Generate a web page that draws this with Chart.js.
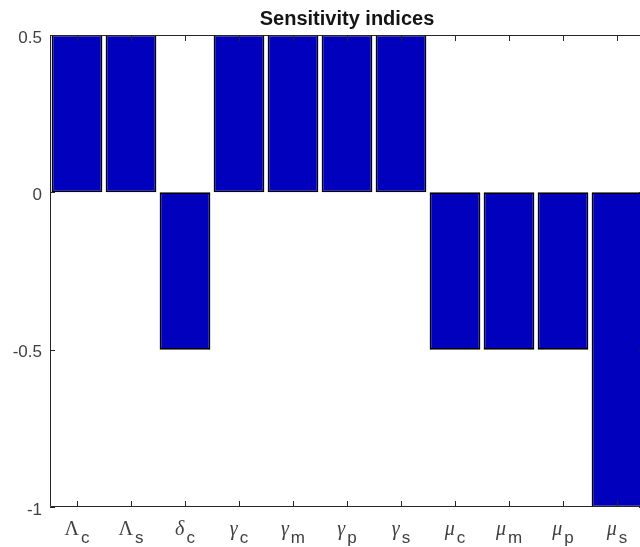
<!DOCTYPE html>
<html>
<head>
<meta charset="utf-8">
<script src="https://cdn.jsdelivr.net/npm/chart.js@4"></script>
<style>
  html, body { margin: 0; padding: 0; background: #ffffff; overflow: hidden; }
  #wrap { width: 660px; height: 547px; }
</style>
</head>
<body>
<div id="wrap"><canvas id="c" width="660" height="547"></canvas></div>
<script>
// Parameter symbols (Greek letter + subscript) and their sensitivity indices
const greekSymbols = ['Λ', 'Λ', 'δ', 'γ', 'γ', 'γ', 'γ', 'μ', 'μ', 'μ', 'μ'];
const subscripts   = ['c', 's', 'c', 'c', 'm', 'p', 's', 'c', 'm', 'p', 's'];
const categories   = greekSymbols.map((g, i) => g + subscripts[i]);
const sensitivity  = [0.5, 0.5, -0.5, 0.5, 0.5, 0.5, 0.5, -0.5, -0.5, -0.5, -1];
const yTickValues  = [0.5, 0, -0.5, -1];
const yTickLabels  = ['0.5', '0', '-0.5', '-1'];
const titleText    = 'Sensitivity indices';

const AXIS_COLOR = '#262626';
const LABEL_COLOR = '#404040';

// Frame, inward tick marks, title, y labels and subscripted category labels
const framePlugin = {
  id: 'frame',
  afterDatasetsDraw(chart) {
    const { ctx, chartArea: a, scales: { x, y } } = chart;
    ctx.save();
    ctx.strokeStyle = AXIS_COLOR;
    ctx.lineWidth = 1;
    ctx.beginPath();
    ctx.rect(a.left + 0.5, a.top + 0.5, a.right - a.left - 1, a.bottom - a.top - 1);
    ctx.stroke();

    ctx.beginPath();
    categories.forEach((c, i) => {
      const px = Math.round(x.getPixelForValue(i)) + 0.5;
      ctx.moveTo(px, a.bottom); ctx.lineTo(px, a.bottom - 6);
      ctx.moveTo(px, a.top); ctx.lineTo(px, a.top + 6);
    });
    yTickValues.forEach(v => {
      const py = Math.round(y.getPixelForValue(v)) + 0.5;
      ctx.moveTo(a.left, py); ctx.lineTo(a.left + 5, py);
      ctx.moveTo(a.right, py); ctx.lineTo(a.right - 5, py);
    });
    ctx.stroke();

    // title centred over the plot area
    ctx.fillStyle = '#141414';
    ctx.font = 'bold 20px "Liberation Sans", Arial, sans-serif';
    ctx.textAlign = 'center';
    ctx.textBaseline = 'alphabetic';
    ctx.fillText(titleText, (a.left + a.right) / 2, 25);

    // y tick labels
    ctx.fillStyle = LABEL_COLOR;
    ctx.textAlign = 'right';
    ctx.textBaseline = 'middle';
    ctx.font = '17px "Liberation Sans", Arial, sans-serif';
    yTickValues.forEach((v, i) => {
      ctx.fillText(yTickLabels[i], a.left - 8, y.getPixelForValue(v) + 3);
    });

    // category labels: Greek symbol with a sans-serif subscript
    ctx.textAlign = 'left';
    ctx.textBaseline = 'alphabetic';
    const gFontUpper = '20px "Liberation Serif", "Times New Roman", serif';
    const gFontLower = 'italic 20px "Liberation Serif", "Times New Roman", serif';
    const sFont = '17px "Liberation Sans", Arial, sans-serif';
    categories.forEach((c, i) => {
      const g = greekSymbols[i], s = subscripts[i];
      const gFont = g === g.toUpperCase() ? gFontUpper : gFontLower;
      ctx.font = gFont;
      const gw = ctx.measureText(g).width;
      ctx.font = sFont;
      const sw = ctx.measureText(s).width;
      const gap = 2;
      const cx = x.getPixelForValue(i);
      const x0 = cx - (gw + gap + sw) / 2;
      ctx.font = gFont;
      ctx.fillText(g, x0, 535);
      ctx.font = sFont;
      ctx.fillText(s, x0 + gw + gap, 543);
    });
    ctx.restore();
  }
};

new Chart(document.getElementById('c'), {
  type: 'bar',
  data: {
    labels: categories,
    datasets: [{
      data: sensitivity,
      backgroundColor: '#0000bd',
      borderColor: '#000000',
      borderWidth: 1.6,
      borderSkipped: false,
      categoryPercentage: 1.0,
      barPercentage: 0.94
    }]
  },
  options: {
    responsive: false,
    animation: false,
    devicePixelRatio: 1,
    layout: { padding: { left: 0, right: 16, top: 35, bottom: 0 } },
    plugins: {
      legend: { display: false },
      title: { display: false },
      tooltip: { enabled: false }
    },
    scales: {
      x: {
        type: 'category',
        offset: true,
        grid: { display: false, drawTicks: false },
        border: { display: false },
        ticks: { display: false },
        afterFit(s) { s.height = 40; }
      },
      y: {
        min: -1,
        max: 0.5,
        afterBuildTicks(s) { s.ticks = yTickValues.map(v => ({ value: v })); },
        grid: { display: false, drawTicks: false },
        border: { display: false },
        ticks: { display: false },
        afterFit(s) { s.width = 50; }
      }
    }
  },
  plugins: [framePlugin]
});
</script>
</body>
</html>
